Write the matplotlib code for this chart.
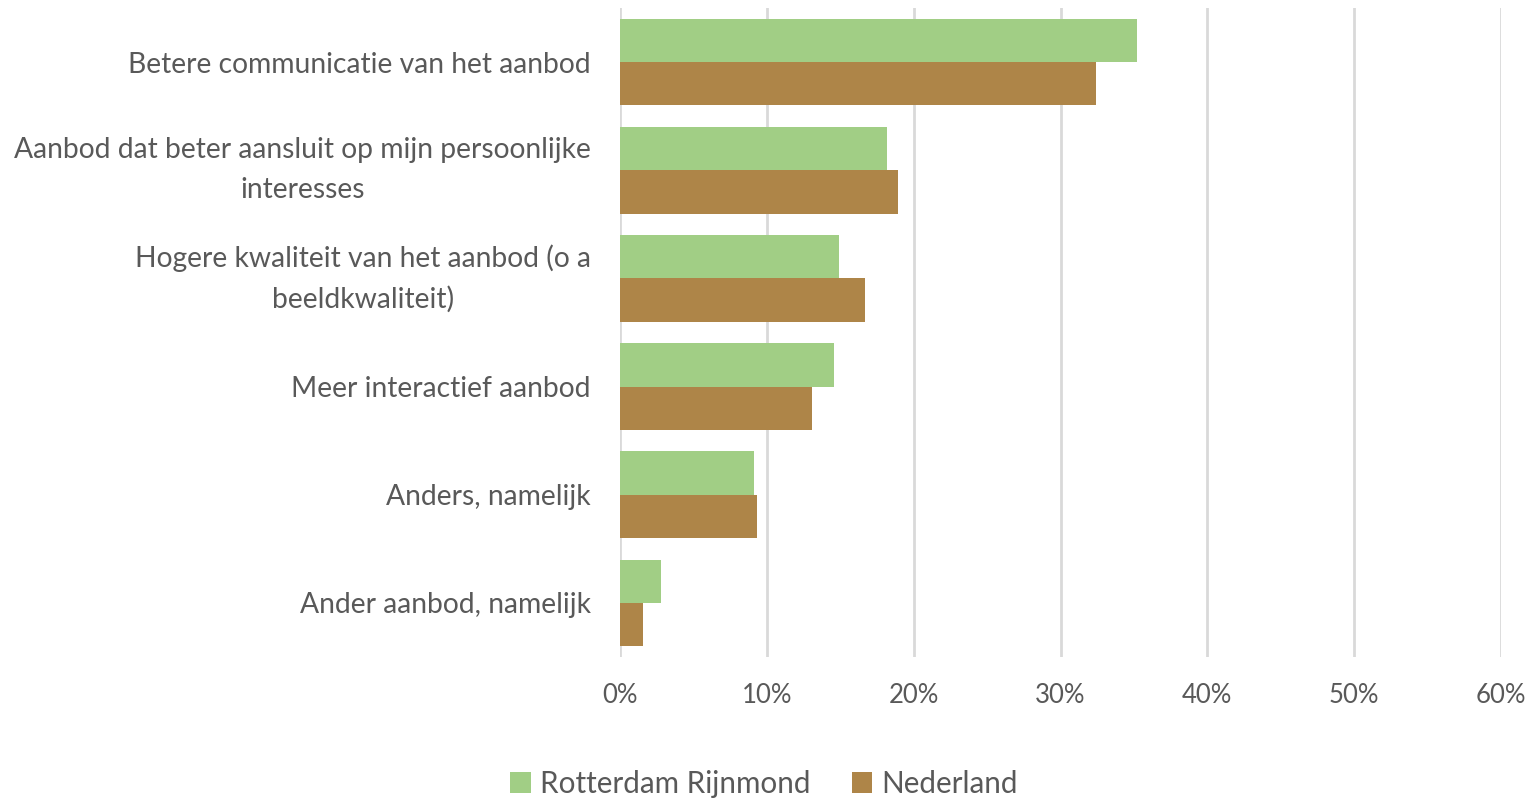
import matplotlib
matplotlib.use("Agg")
import matplotlib.pyplot as plt
import numpy as np
from matplotlib.ticker import FuncFormatter

categories = [
    "Betere communicatie van het aanbod",
    "Aanbod dat beter aansluit op mijn persoonlijke\ninteresses",
    "Hogere kwaliteit van het aanbod (o a\nbeeldkwaliteit)",
    "Meer interactief aanbod",
    "Anders, namelijk",
    "Ander aanbod, namelijk",
]
rotterdam = [35.2, 18.2, 14.9, 14.6, 9.1, 2.8]
nederland = [32.4, 18.9, 16.7, 13.1, 9.3, 1.6]
series_names = ["Rotterdam Rijnmond", "Nederland"]
xticks = [0, 10, 20, 30, 40, 50, 60]

green = "#A1CE85"
brown = "#AE8548"
text_color = "#595959"

plt.rcParams['font.family'] = ['Lato', 'DejaVu Sans']

fig = plt.figure(figsize=(15.29, 7.99), dpi=100)
ax = fig.add_axes([620/1529, 1-657/799, (1501-620)/1529, (657-8)/799])

y = np.arange(len(categories))
h = 0.4
ax.barh(y - h/2, rotterdam, height=h, color=green, label=series_names[0], zorder=3)
ax.barh(y + h/2, nederland, height=h, color=brown, label=series_names[1], zorder=3)

ax.set_ylim(len(categories) - 0.5, -0.5)
ax.set_xlim(0, 60)
ax.set_xticks(xticks)
ax.xaxis.set_major_formatter(FuncFormatter(lambda v, p: f"{v:.0f}%"))
ax.set_yticks(y)
ax.set_yticklabels(categories, multialignment='center', linespacing=1.65, fontsize=20.3)
for lbl in ax.get_yticklabels():
    if "\n" in lbl.get_text():
        lbl.set_va('center')

ax.grid(axis='x', color='#D9D9D9', linewidth=2, zorder=0)
for s in ax.spines.values():
    s.set_visible(False)
ax.tick_params(axis='both', length=0, colors=text_color)
ax.tick_params(axis='x', pad=19, labelsize=18.5)
ax.tick_params(axis='y', pad=21)

handles, labels = ax.get_legend_handles_labels()
fig.legend(handles, labels, loc='center', bbox_to_anchor=(764/1529, 1-784/799),
           ncol=2, frameon=False, fontsize=21.3, labelcolor=text_color,
           handlelength=0.7, handleheight=0.7, handletextpad=0.3, columnspacing=1.4)

fig.savefig("out.png", dpi=100)
